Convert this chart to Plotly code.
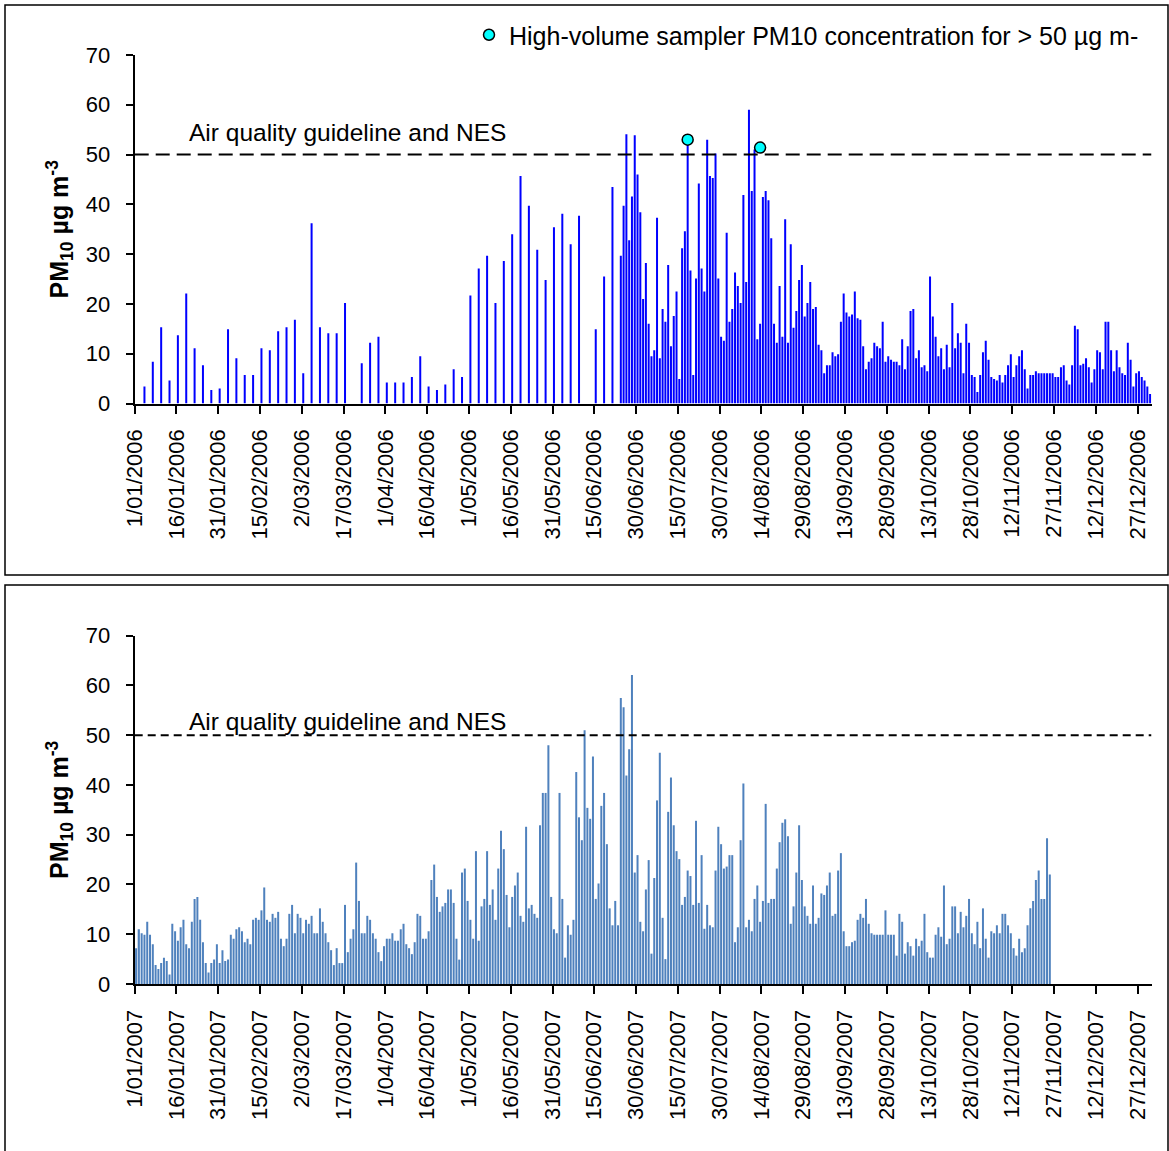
import plotly.graph_objects as go

# ---------------- data ----------------
tick_days = [0, 15, 30, 45, 60, 75, 90, 105, 120, 135, 150, 165, 180, 195, 210, 225,
             240, 255, 270, 285, 300, 315, 330, 345, 360]
ticks_2006 = ["1/01/2006", "16/01/2006", "31/01/2006", "15/02/2006", "2/03/2006", "17/03/2006",
              "1/04/2006", "16/04/2006", "1/05/2006", "16/05/2006", "31/05/2006", "15/06/2006",
              "30/06/2006", "15/07/2006", "30/07/2006", "14/08/2006", "29/08/2006", "13/09/2006",
              "28/09/2006", "13/10/2006", "28/10/2006", "12/11/2006", "27/11/2006", "12/12/2006",
              "27/12/2006"]
ticks_2007 = ["1/01/2007", "16/01/2007", "31/01/2007", "15/02/2007", "2/03/2007", "17/03/2007",
              "1/04/2007", "16/04/2007", "1/05/2007", "16/05/2007", "31/05/2007", "15/06/2007",
              "30/06/2007", "15/07/2007", "30/07/2007", "14/08/2007", "29/08/2007", "13/09/2007",
              "28/09/2007", "13/10/2007", "28/10/2007", "12/11/2007", "27/11/2007", "12/12/2007",
              "27/12/2007"]

# 2006: sparse sampling (day of year index) then daily from day 174
pm10_2006_sparse_days = [3, 6, 9, 12, 15, 18, 21, 24, 27, 30, 33, 36, 39, 42, 45, 48, 51, 54, 57, 60,
                         63, 66, 69, 72, 75, 81, 84, 87, 90, 93, 96, 99, 102, 105, 108, 111, 114, 117,
                         120, 123, 126, 129, 132, 135, 138, 141, 144, 147, 150, 153, 156, 159,
                         165, 168, 171]
pm10_2006_sparse = [3.4, 8.4, 15.3, 4.6, 13.7, 22.1, 11.1, 7.7, 2.7, 3.0, 14.9, 9.1, 5.7, 5.7, 11.1,
                    10.7, 14.5, 15.3, 16.8, 6.1, 36.2, 15.3, 14.1, 14.1, 20.2, 8.1, 12.2, 13.4, 4.2,
                    4.2, 4.2, 5.3, 9.5, 3.4, 2.7, 3.8, 6.9, 5.3, 21.7, 27.1, 29.7, 20.2, 28.6, 34.0,
                    45.7, 39.7, 30.9, 24.8, 35.4, 38.1, 32.0, 37.7, 14.9, 25.5, 43.5]
pm10_2006_daily_start = 174
pm10_2006_daily = [
    29.7, 39.7, 54.1, 32.8, 41.6, 53.9, 46.0, 38.4, 21.0, 28.2,
    16.0, 9.5, 10.7, 37.3, 9.1, 19.0, 16.4, 27.8, 11.5, 17.6,
    22.5, 4.9, 31.2, 34.6, 52.5, 26.7, 5.7, 25.1, 44.2, 27.1,
    22.5, 53.0, 45.7, 45.3, 50.2, 25.1, 13.4, 12.6, 34.3, 16.4,
    19.0, 26.3, 23.6, 20.2, 41.9, 24.4, 59.0, 42.7, 51.0, 12.9,
    16.0, 41.5, 42.7, 40.8, 33.2, 16.0, 12.2, 23.6, 13.4, 37.0,
    12.2, 32.0, 15.2, 18.6, 24.8, 27.8, 17.5, 20.2, 24.4, 19.0,
    19.4, 11.8, 10.7, 6.1, 7.7, 7.7, 10.3, 9.5, 9.9, 16.4,
    22.1, 18.3, 17.5, 17.9, 22.5, 17.1, 16.8, 11.5, 6.9, 8.4,
    9.1, 12.2, 11.5, 11.1, 16.4, 8.4, 9.5, 8.8, 8.4, 8.4,
    7.7, 12.9, 6.9, 11.5, 18.6, 19.0, 9.1, 10.7, 7.3, 7.7,
    6.5, 25.5, 17.5, 13.4, 9.5, 11.1, 6.9, 11.8, 7.3, 20.2,
    11.1, 14.1, 12.2, 6.1, 16.0, 12.2, 5.7, 5.3, 2.3, 5.7,
    10.3, 12.6, 8.8, 5.3, 4.9, 4.6, 5.7, 4.2, 5.7, 7.7,
    9.9, 5.3, 7.7, 9.5, 10.7, 6.9, 3.0, 5.7, 5.7, 6.5,
    6.1, 6.1, 6.1, 6.1, 6.1, 6.1, 5.3, 5.3, 7.3, 7.7,
    4.6, 3.8, 7.7, 15.6, 14.9, 7.7, 8.0, 9.1, 7.3, 4.2,
    6.9, 10.7, 10.3, 6.9, 16.4, 16.4, 10.7, 6.5, 10.7, 7.3,
    6.1, 5.7, 12.2, 8.8, 3.4, 6.1, 6.5, 5.3, 4.6, 3.4,
    1.9]

hivol_days = [198, 224]
hivol_pm10 = [53.0, 51.4]

# 2007: daily from 1 Jan
pm10_2007 = [
    7.2, 11.0, 10.2, 9.9, 12.5, 9.9, 8.0, 3.8, 3.0, 4.2,
    5.3, 4.6, 1.9, 12.1, 10.6, 8.7, 11.4, 12.9, 8.0, 7.2,
    12.5, 17.1, 17.5, 12.9, 8.4, 4.2, 2.3, 4.2, 4.9, 8.0,
    4.2, 6.8, 4.6, 4.9, 9.9, 9.1, 11.0, 11.4, 10.6, 8.4,
    9.1, 8.0, 12.9, 13.3, 12.9, 14.8, 19.4, 12.9, 12.5, 14.1,
    13.3, 14.5, 9.1, 7.6, 9.1, 14.1, 15.9, 10.2, 14.1, 13.3,
    10.2, 12.9, 12.1, 13.7, 10.2, 10.2, 15.2, 12.5, 10.2, 8.4,
    6.8, 3.8, 7.2, 4.2, 4.2, 15.9, 6.4, 9.1, 11.0, 24.4,
    16.7, 10.2, 10.2, 13.7, 12.9, 10.2, 9.1, 6.4, 4.6, 7.6,
    9.1, 9.1, 10.2, 8.7, 8.7, 11.0, 12.1, 8.0, 7.2, 6.0,
    8.4, 14.1, 13.7, 9.1, 9.1, 10.6, 20.9, 24.0, 17.5, 14.5,
    15.6, 16.3, 19.0, 19.0, 16.3, 9.1, 4.9, 22.4, 23.2, 16.7,
    12.9, 9.1, 26.7, 8.7, 15.6, 17.1, 26.7, 15.9, 19.0, 12.9,
    23.2, 30.8, 27.1, 17.9, 11.4, 17.5, 19.8, 22.4, 13.7, 12.5,
    31.6, 15.2, 15.9, 14.1, 13.3, 31.9, 38.4, 38.4, 48.0, 17.5,
    11.0, 10.2, 38.4, 17.1, 5.3, 11.8, 9.9, 12.9, 42.6, 33.5,
    28.9, 51.0, 35.4, 33.2, 45.7, 17.1, 20.2, 35.8, 38.4, 28.1,
    15.2, 11.8, 16.7, 11.8, 57.5, 55.6, 41.9, 47.2, 62.1, 22.4,
    25.9, 12.5, 10.6, 19.0, 24.9, 6.1, 21.3, 36.9, 46.5, 13.3,
    5.0, 34.6, 41.5, 31.9, 26.7, 25.1, 15.9, 17.5, 22.8, 21.7,
    15.9, 32.8, 16.3, 25.9, 11.1, 15.9, 11.8, 11.4, 22.8, 31.6,
    28.1, 23.2, 23.6, 25.9, 25.9, 8.4, 11.4, 28.9, 40.3, 11.4,
    12.9, 10.6, 17.1, 19.8, 12.5, 16.7, 36.2, 16.3, 17.1, 17.1,
    23.2, 28.5, 32.4, 33.1, 29.7, 12.1, 15.6, 22.4, 31.9, 20.9,
    15.6, 13.7, 12.1, 19.8, 12.1, 13.3, 18.2, 17.9, 19.8, 22.4,
    13.7, 14.1, 22.8, 26.3, 10.6, 7.6, 7.6, 8.4, 8.7, 12.9,
    14.1, 13.3, 17.1, 12.1, 10.2, 9.9, 9.9, 9.9, 9.9, 14.8,
    9.9, 9.9, 9.9, 5.7, 14.1, 12.5, 6.1, 8.4, 7.6, 5.7,
    9.1, 7.6, 8.7, 14.1, 6.4, 5.3, 5.3, 9.9, 11.4, 9.5,
    19.8, 8.0, 9.1, 15.6, 15.6, 10.2, 14.5, 11.4, 13.7, 17.1,
    10.2, 8.0, 12.5, 7.2, 15.2, 9.1, 5.3, 10.6, 10.2, 11.8,
    10.2, 14.1, 14.1, 11.8, 10.2, 7.2, 5.7, 9.1, 6.4, 7.2,
    11.8, 15.2, 16.7, 20.9, 22.8, 17.1, 17.1, 29.3, 22.0]

guideline = 50
y_ticks = [0, 10, 20, 30, 40, 50, 60, 70]

# ---------------- figure ----------------
W, H = 1169, 1151
FONT = "Liberation Sans, Arial, sans-serif"


def px_x(p):
    return p / W


def px_y(p):
    return 1 - p / H


x06 = [d + 0.5 for d in pm10_2006_sparse_days] + \
      [pm10_2006_daily_start + i + 0.5 for i in range(len(pm10_2006_daily))]
y06 = pm10_2006_sparse + pm10_2006_daily
x07 = [i + 0.5 for i in range(len(pm10_2007))]

fig = go.Figure()
fig.add_trace(go.Bar(x=x06, y=y06, marker=dict(color="#0000FF", line=dict(width=0)),
                     width=0.72, showlegend=False, xaxis="x", yaxis="y"))
fig.add_trace(go.Scatter(x=[0, 365], y=[guideline, guideline], mode="lines",
                         line=dict(color="black", width=2, dash="14px,7px"),
                         showlegend=False, xaxis="x", yaxis="y"))
fig.add_trace(go.Scatter(x=[d + 0.5 for d in hivol_days], y=hivol_pm10, mode="markers",
                         marker=dict(color="#00FFFF", size=11, line=dict(color="black", width=1.5)),
                         name="High-volume sampler PM10 concentration for > 50 µg m-",
                         showlegend=True, xaxis="x", yaxis="y"))

fig.add_trace(go.Bar(x=x07, y=pm10_2007, marker=dict(color="#4F81BD", line=dict(width=0)),
                     width=0.72, showlegend=False, xaxis="x2", yaxis="y2"))
fig.add_trace(go.Scatter(x=[0, 365], y=[guideline, guideline], mode="lines",
                         line=dict(color="black", width=2, dash="8px,5px"),
                         showlegend=False, xaxis="x2", yaxis="y2"))

xdom = [px_x(134.7), px_x(1151.5)]
common_x = dict(range=[0, 365], tickmode="array", tickvals=tick_days, tickangle=-90,
                ticks="outside", ticklen=8, tickwidth=2, tickcolor="black",
                showline=True, linewidth=2, linecolor="black", showgrid=False, zeroline=False,
                tickfont=dict(family=FONT, size=22, color="black"), ticklabelstandoff=7,
                automargin=False, domain=xdom)
common_y = dict(range=[0, 70], tickmode="array", tickvals=y_ticks,
                ticks="outside", ticklen=7, tickwidth=2, tickcolor="black",
                showline=True, linewidth=2, linecolor="black", showgrid=False, zeroline=False,
                tickfont=dict(family=FONT, size=22, color="black"), ticklabelstandoff=11,
                automargin=False,
                title=dict(text="<b>PM<sub>10</sub> µg m<sup>-3</sup></b>",
                           font=dict(family=FONT, size=25, color="black"), standoff=10))

fig.update_layout(
    width=W, height=H, margin=dict(l=0, r=0, t=0, b=0),
    paper_bgcolor="white", plot_bgcolor="white", bargap=0.28,
    font=dict(family=FONT, color="black"),
    xaxis=dict(common_x, ticktext=ticks_2006, anchor="y"),
    yaxis=dict(common_y, domain=[px_y(403.5), px_y(55)], anchor="x"),
    xaxis2=dict(common_x, ticktext=ticks_2007, anchor="y2"),
    yaxis2=dict(common_y, domain=[px_y(984), px_y(635.7)], anchor="x2"),
    legend=dict(x=px_x(469), y=px_y(35), xanchor="left", yanchor="middle",
                bgcolor="rgba(0,0,0,0)", font=dict(family=FONT, size=25, color="black"),
                itemwidth=30),
    annotations=[
        dict(x=18.7, y=54.4, xref="x", yref="y", text="Air quality guideline and NES",
             showarrow=False, xanchor="left", yanchor="middle",
             font=dict(family=FONT, size=24.5, color="black")),
        dict(x=18.7, y=52.8, xref="x2", yref="y2", text="Air quality guideline and NES",
             showarrow=False, xanchor="left", yanchor="middle",
             font=dict(family=FONT, size=24.5, color="black")),
    ],
    shapes=[
        dict(type="rect", xref="paper", yref="paper", x0=px_x(5), x1=px_x(1168),
             y0=px_y(575), y1=px_y(5), line=dict(color="black", width=1.5)),
        dict(type="rect", xref="paper", yref="paper", x0=px_x(5), x1=px_x(1168),
             y0=px_y(1152), y1=px_y(585), line=dict(color="black", width=1.5)),
    ],
)

fig.write_html("out.html")
